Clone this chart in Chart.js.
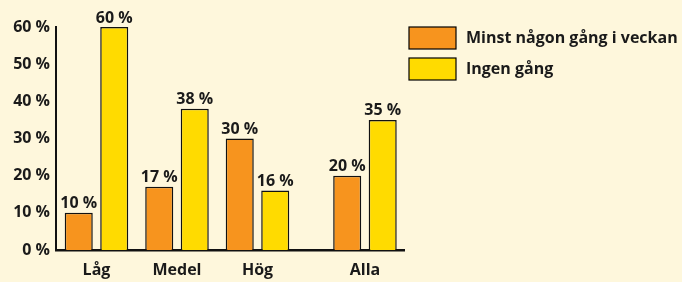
<!DOCTYPE html>
<html>
<head>
<meta charset="utf-8">
<script src="https://cdn.jsdelivr.net/npm/chart.js@4"></script>
<style>
  html, body { margin: 0; padding: 0; background: #fef7dc; }
  #wrap { width: 682px; height: 282px; position: relative; }
</style>
</head>
<body>
<div id="wrap"><canvas id="myChart"></canvas></div>
<script>
// data
const kategorier = ["Låg", "Medel", "Hög", "Alla"];
const gruppPos = [0, 1, 2, 3.335]; // Alla sits a bit apart
const minstNagonGang = [10, 17, 30, 20];
const ingenGang = [60, 38, 16, 35];
const serieNamn = ["Minst någon gång i veckan", "Ingen gång"];

const textFarg = "#1a1a1a";
const fontNamn = "'Open Sans', 'DejaVu Sans', sans-serif";

// procent ovanfor varje stapel
const etiketter = {
  id: "etiketter",
  afterDatasetsDraw(chart) {
    const ctx = chart.ctx;
    ctx.save();
    ctx.font = "bold 16px " + fontNamn;
    ctx.fillStyle = textFarg;
    ctx.textAlign = "center";
    ctx.textBaseline = "bottom";
    chart.data.datasets.forEach((ds, d) => {
      chart.getDatasetMeta(d).data.forEach((bar, i) => {
        ctx.fillText(ds.data[i].y + " %", bar.x, bar.y - 1);
      });
    });
    ctx.restore();
  },
};

// egen legend uppe till hoger
const legend = {
  id: "egenLegend",
  afterDraw(chart) {
    const ctx = chart.ctx;
    ctx.save();
    ctx.font = "bold 16px " + fontNamn;
    ctx.textBaseline = "middle";
    chart.data.datasets.forEach((ds, d) => {
      const x = 409;
      const y = 27 + d * 31;
      ctx.fillStyle = ds.backgroundColor;
      ctx.fillRect(x, y, 47, 22);
      ctx.strokeStyle = "#000";
      ctx.lineWidth = 1.2;
      ctx.strokeRect(x, y, 47, 22);
      ctx.fillStyle = textFarg;
      ctx.fillText(ds.label, x + 57, y + 11);
    });
    ctx.restore();
  },
};

const ctx = document.getElementById("myChart");
new Chart(ctx, {
  type: "bar",
  data: {
    datasets: [
      {
        label: serieNamn[0],
        data: minstNagonGang.map((v, i) => ({ x: gruppPos[i], y: v })),
        backgroundColor: "#f7941e",
        borderColor: "#111",
        borderWidth: 1.5,
      },
      {
        label: serieNamn[1],
        data: ingenGang.map((v, i) => ({ x: gruppPos[i], y: v })),
        backgroundColor: "#ffdb00",
        borderColor: "#111",
        borderWidth: 1.5,
      },
    ],
  },
  options: {
    responsive: true,
    maintainAspectRatio: false,
    animation: false,
    categoryPercentage: 0.882,
    barPercentage: 0.79,
    layout: {
      padding: { top: 27, right: 278, left: 0, bottom: 0 },
    },
    plugins: {
      legend: { display: false },
      tooltip: { enabled: false },
    },
    scales: {
      x: {
        type: "linear",
        offset: false,
        min: -0.503,
        max: 3.82,
        afterFit: (scale) => {
          scale.height = 32;
        },
        afterBuildTicks: (scale) => {
          scale.ticks = gruppPos.map((v) => ({ value: v }));
        },
        grid: { display: false, drawTicks: false },
        border: { display: true, color: "#111", width: 2.5 },
        ticks: {
          autoSkip: false,
          maxRotation: 0,
          padding: 11,
          color: textFarg,
          font: { family: fontNamn, size: 16, weight: "bold" },
          callback: (v, i) => kategorier[i],
        },
      },
      y: {
        min: 0,
        max: 60,
        afterFit: (scale) => {
          scale.width = 56;
        },
        grid: { display: false, drawTicks: false },
        border: { display: true, color: "#111", width: 2 },
        ticks: {
          stepSize: 10,
          padding: 6,
          color: textFarg,
          font: { family: fontNamn, size: 16, weight: "bold" },
          callback: (v) => v + " %",
        },
      },
    },
  },
  plugins: [etiketter, legend],
});
</script>
</body>
</html>
